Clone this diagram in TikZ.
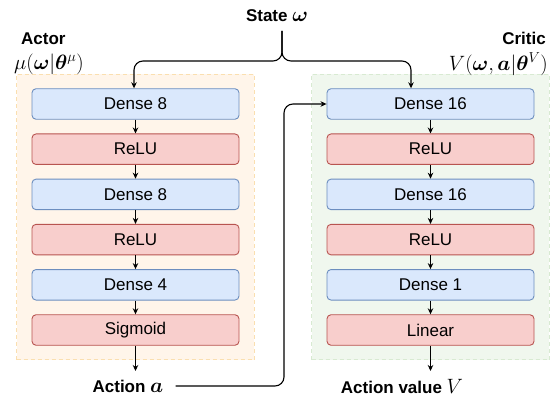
\documentclass[tikz,border=0pt]{standalone}
\usepackage{fontspec}
\usepackage{amsmath,bm}
\setsansfont{Liberation Sans}
\usetikzlibrary{arrows.meta, positioning, fit, backgrounds}

\definecolor{denseFill}{HTML}{DAE8FC}
\definecolor{denseLine}{HTML}{6C8EBF}
\definecolor{actFill}{HTML}{F8CECC}
\definecolor{actLine}{HTML}{B85450}
\definecolor{actorBg}{HTML}{FFF5EA}
\definecolor{actorEdge}{HTML}{FADFB0}
\definecolor{criticBg}{HTML}{F0F7EE}
\definecolor{criticEdge}{HTML}{D8EAD2}

% bigger math next to the bold sans labels
\newcommand{\bigmath}[1]{{\fontsize{20}{20}\selectfont$#1$}}

\tikzset{
  layer/.style={rectangle, rounded corners=4pt, line width=0.9pt,
    minimum width=207pt, minimum height=30.5pt, inner sep=0pt,
    font=\sffamily\fontsize{17}{18}\selectfont},
  dense/.style={layer, fill=denseFill, draw=denseLine},
  activ/.style={layer, fill=actFill, draw=actLine},
  group/.style={rectangle, dashed, line width=0.9pt, dash pattern=on 4pt off 3pt,
    inner xsep=15pt, inner ysep=14pt},
  lbl/.style={inner sep=0pt, font=\sffamily\bfseries\fontsize{17}{18}\selectfont},
  mlbl/.style={inner sep=0pt, font=\fontsize{19.5}{20}\selectfont},
  flow/.style={-{Stealth[length=6pt,width=5.5pt]}, line width=1.1pt},
}

\begin{document}
\begin{tikzpicture}[x=1pt, y=-1pt, node distance=13.8pt]
  \useasboundingbox (0,0) rectangle (556,398);

  % Actor network
  \node[dense] (a1) at (135.5,104) {Dense 8};
  \node[activ, below=of a1] (a2) {ReLU};
  \node[dense, below=of a2] (a3) {Dense 8};
  \node[activ, below=of a3] (a4) {ReLU};
  \node[dense, below=of a4] (a5) {Dense 4};
  \node[activ, below=of a5] (a6) {Sigmoid};

  % Critic network
  \node[dense] (c1) at (430.5,104) {Dense 16};
  \node[activ, below=of c1] (c2) {ReLU};
  \node[dense, below=of c2] (c3) {Dense 16};
  \node[activ, below=of c3] (c4) {ReLU};
  \node[dense, below=of c4] (c5) {Dense 1};
  \node[activ, below=of c5] (c6) {Linear};

  % Group boxes behind the layers
  \begin{scope}[on background layer]
    \node[group, fill=actorBg, draw=actorEdge, fit=(a1)(a6)] (actor) {};
    \node[group, fill=criticBg, draw=criticEdge, fit=(c1)(c6)] (critic) {};
  \end{scope}

  % Titles
  \node[lbl, anchor=west] (actorname) at (21,38.5) {Actor};
  \node[mlbl, anchor=west] (actorfn) at (14,64) {$\mu(\bm{\omega}|\bm{\theta}^{\mu})$};
  \node[lbl, anchor=east] (criticname) at (546,38.5) {Critic};
  \node[mlbl, anchor=east] (criticfn) at (548,64) {$V(\bm{\omega},\bm{a}|\bm{\theta}^{V})$};

  % Inputs and outputs
  \node[lbl] (state) at (277,16) {State \bigmath{\bm{\omega}}};
  \node[lbl] (action) at (128,386) {Action \bigmath{\bm{a}}};
  \node[lbl] (value) at (402,386) {Action value \bigmath{V}};
  \coordinate (fork) at (282,61);

  % Connections inside each network
  \foreach \i/\j in {1/2,2/3,3/4,4/5,5/6} {
    \draw[flow] (a\i) -- (a\j);
    \draw[flow] (c\i) -- (c\j);
  }

  % State fed to both networks
  \draw[flow, rounded corners=9pt] (fork |- 0,31) -- (fork) -| (a1.north -| 134,0);
  \draw[flow, rounded corners=9pt] (fork |- 0,31) -- (fork) -| (c1.north -| 411,0);

  % Outputs
  \draw[flow] (a6.south) -- (a6.south |- 0,371);
  \draw[flow] (c6.south) -- (c6.south |- 0,371);

  % Action fed back into the critic
  \draw[flow, rounded corners=9pt] (action.east) ++(12,0) -- (284,386) -- (284,104) -- (c1.west);
\end{tikzpicture}
\end{document}
